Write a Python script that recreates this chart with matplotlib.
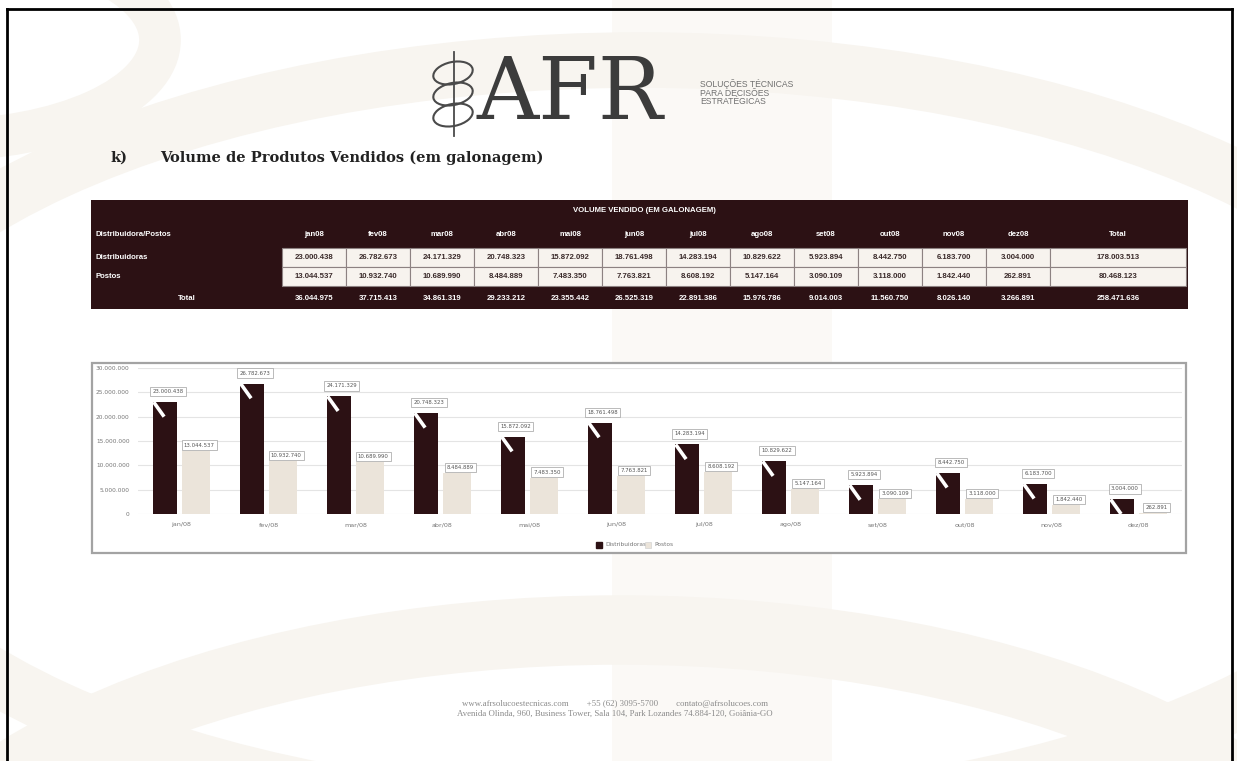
import matplotlib
matplotlib.use("Agg")
import matplotlib.pyplot as plt
from matplotlib.patches import Rectangle, Ellipse
import numpy as np

W, H = 1237, 761

# Monthly volumes sold (gallons)
months = ["jan/08", "fev/08", "mar/08", "abr/08", "mai/08", "jun/08",
          "jul/08", "ago/08", "set/08", "out/08", "nov/08", "dez/08"]
distribuidoras = [23000438, 26782673, 24171329, 20748323, 15872092, 18761498,
                  14283194, 10829622, 5923894, 8442750, 6183700, 3004000]
postos = [13044537, 10932740, 10689990, 8484889, 7483350, 7763821,
          8608192, 5147164, 3090109, 3118000, 1842440, 262891]
series_names = ["Distribuidoras", "Postos"]
y_ticks = [0, 5000000, 10000000, 15000000, 20000000, 25000000, 30000000]

DARK = "#2c1114"
LIGHT = "#ebe4da"


def fmt(v):
    return f"{v:,}".replace(",", ".")


def fr(x0, y0, x1, y1):
    return [x0 / W, 1 - y1 / H, (x1 - x0) / W, (y1 - y0) / H]


fig = plt.figure(figsize=(W / 100, H / 100), dpi=100)
fig.patch.set_facecolor("white")

# ---- page layer (pixel coordinates, y downwards) ----
pg = fig.add_axes([0, 0, 1, 1])
pg.set_xlim(0, W)
pg.set_ylim(H, 0)
pg.axis("off")

# faint watermark shapes
wm = "#f8f5f0"
pg.add_patch(Rectangle((612, 0), 220, H, color="#fbf9f6", zorder=0, lw=0))
pg.add_patch(Ellipse((640, 440), 1650, 760, fill=False, ec=wm, lw=40, zorder=0))
pg.add_patch(Ellipse((620, 980), 1500, 700, fill=False, ec=wm, lw=50, zorder=0))
pg.add_patch(Ellipse((-60, 40), 440, 200, fill=False, ec=wm, lw=30, zorder=0))

# page frame
pg.plot([7, 7], [9, H + 5], color="black", lw=2, zorder=5)
pg.plot([7, 1232], [9, 9], color="black", lw=2, zorder=5)
pg.plot([1232, 1232], [9, H + 5], color="black", lw=2, zorder=5)

# logo
lc = "#4a4a4a"
for yc in (73, 94, 115):
    pg.add_patch(Ellipse((453, yc), 40, 22, angle=-12, fill=False, ec=lc, lw=1.5, zorder=3))
pg.plot([454, 454], [52, 136], color=lc, lw=1.3, zorder=3)
pg.text(476, 119, "AFR", fontsize=62, family="DejaVu Serif", color="#3c3c3c",
        va="baseline", ha="left", zorder=3)
for i, line in enumerate(["SOLUÇÕES TÉCNICAS", "PARA DECISÕES", "ESTRATÉGICAS"]):
    pg.text(700, 84 + i * 9, line, fontsize=6.2, color="#707070",
            va="center", ha="left", family="Liberation Sans", zorder=3)

# section heading
pg.text(110, 158, "k)", fontsize=10.5, weight="bold", family="DejaVu Serif",
        color="#222222", va="center")
pg.text(160, 158, "Volume de Produtos Vendidos (em galonagem)", fontsize=10.5,
        weight="bold", family="DejaVu Serif", color="#222222", va="center")

# ---- table ----
tx0, tx1 = 91, 1188
c0 = 282
cw = 64
tot_x0 = c0 + 12 * cw
rows = {"dist": (248, 267), "post": (267, 286)}
pg.add_patch(Rectangle((tx0, 200), tx1 - tx0, 109, color=DARK, zorder=2, lw=0))
tkw = dict(family="Liberation Sans", weight="bold", fontsize=5.6, zorder=4)
pg.text((tx0 + tx1) / 2 + 5, 211, "VOLUME VENDIDO (EM GALONAGEM)", color="white",
        ha="center", va="center", **tkw)
pg.text(96, 234, "Distribuidora/Postos", color="white", ha="left", va="center", **tkw)
pg.text(96, 257.5, "Distribuidoras", color="white", ha="left", va="center", **tkw)
pg.text(96, 276.5, "Postos", color="white", ha="left", va="center", **tkw)
pg.text((tx0 + c0) / 2, 298.5, "Total", color="white", ha="center", va="center", **tkw)

col_x = [c0 + i * cw for i in range(12)] + [tot_x0]
col_w = [cw] * 12 + [tx1 - 2 - tot_x0]
heads = [m.replace("/", "") for m in months] + ["Total"]
dist_vals = distribuidoras + [sum(distribuidoras)]
post_vals = postos + [sum(postos)]
tot_vals = [d + p for d, p in zip(dist_vals, post_vals)]
for x, w, h, d, p, t in zip(col_x, col_w, heads, dist_vals, post_vals, tot_vals):
    cx = x + w / 2
    pg.text(cx, 234, h, color="white", ha="center", va="center", **tkw)
    for (y0, y1), v in ((rows["dist"], d), (rows["post"], p)):
        pg.add_patch(Rectangle((x, y0), w, y1 - y0, fc="#f7f3ee", ec="#8d8282",
                               lw=0.8, zorder=3))
        pg.text(cx, (y0 + y1) / 2, fmt(v), color="#3a2a2a", ha="center",
                va="center", **tkw)
    pg.text(cx, 298.5, fmt(t), color="white", ha="center", va="center", **tkw)

# ---- chart frame ----
pg.add_patch(Rectangle((92, 363), 1094, 190, fc="white", ec="#a3a3a3", lw=1.6, zorder=2))

# ---- chart ----
ax = fig.add_axes(fr(138, 368, 1182, 514))
ax.set_zorder(3)
ax.patch.set_alpha(0)
x = np.arange(len(months))
wd, wl = 0.28, 0.32
xd, xl = x - 0.19, x + 0.17
ax.bar(xd, distribuidoras, width=wd, color=DARK, zorder=2)
ax.bar(xl, postos, width=wl, color=LIGHT, zorder=2)
ax.set_xlim(-0.5, 11.5)
ax.set_ylim(0, 30000000)
ax.set_yticks(y_ticks)
ax.set_yticklabels([fmt(v) for v in y_ticks], fontsize=4.2, color="#777777")
ax.set_xticks(x)
ax.set_xticklabels(months, fontsize=4.6, color="#777777")
ax.tick_params(length=0, pad=6)
ax.grid(axis="y", color="#e4e4e4", lw=0.8, zorder=0)
for s in ax.spines.values():
    s.set_visible(False)

lbl_box = dict(boxstyle="square,pad=0.4", fc="white", ec="#a0a0a0", lw=0.5)
for xi, v in zip(xd, distribuidoras):
    left = xi - wd / 2
    # white pointer cutting into the top-left of the bar
    ax.plot([left + 0.01, left + 0.13], [v, max(v - 3000000, 0)], color="white",
            lw=2.6, solid_capstyle="butt", zorder=3)
    ax.annotate(fmt(v), xy=(xi, v), xytext=(3, 8), textcoords="offset pixels",
                ha="center", va="bottom", fontsize=3.9, color="#555555",
                bbox=lbl_box, zorder=4)
for xi, v in zip(xl, postos):
    ax.annotate(fmt(v), xy=(xi, v), xytext=(3, 3), textcoords="offset pixels",
                ha="center", va="bottom", fontsize=3.9, color="#555555",
                bbox=lbl_box, zorder=4)

# legend
pg.add_patch(Rectangle((596, 542), 6, 6, color=DARK, zorder=4))
pg.text(605, 545, series_names[0], fontsize=4.2, color="#777777", va="center", zorder=4)
pg.add_patch(Rectangle((645, 542), 6, 6, fc=LIGHT, ec="#cccccc", lw=0.4, zorder=4))
pg.text(654, 545, series_names[1], fontsize=4.2, color="#777777", va="center", zorder=4)

# footer
fkw = dict(family="Liberation Serif", fontsize=6.3, color="#8a8a8a", ha="center",
           va="center", zorder=4)
pg.text(615, 704, "www.afrsolucoestecnicas.com        +55 (62) 3095-5700        "
        "contato@afrsolucoes.com", **fkw)
pg.text(615, 714, "Avenida Olinda, 960, Business Tower, Sala 104, Park Lozandes "
        "74.884-120, Goiânia-GO", **fkw)

fig.savefig("out.png", dpi=100, facecolor="white")
